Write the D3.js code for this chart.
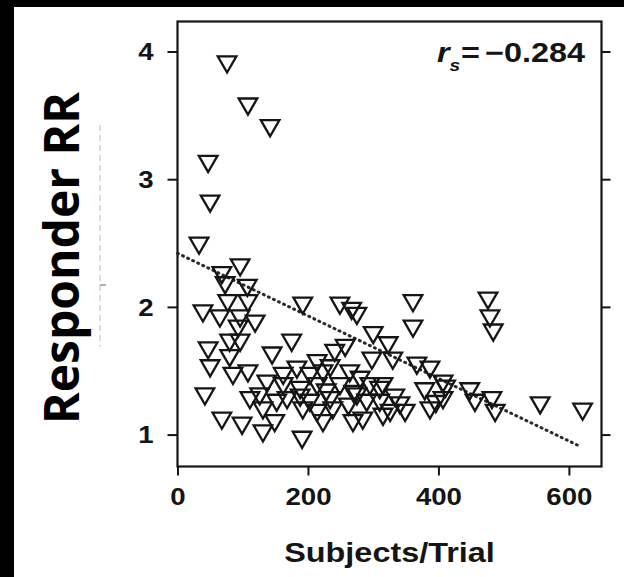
<!DOCTYPE html>
<html>
<head>
<meta charset="utf-8">
<script src="https://cdn.jsdelivr.net/npm/d3@7"></script>
<style>
  html, body { margin: 0; padding: 0; background: #fff; }
  svg { display: block; }
</style>
</head>
<body>
<svg id="chart" width="624" height="577"></svg>
<script>
// Trial size (subjects per trial) and responder relative risk, one entry per trial
const subjects = [
  76, 108, 142, 47, 50, 33,
  96, 68, 73, 77, 108, 39, 65, 96, 119, 93, 80, 96, 47, 50,
  85, 108, 42, 68, 99, 131, 149, 191,
  192, 249, 267, 275, 361, 361, 476, 479, 484,
  300, 323, 145, 175, 257, 241, 298, 330, 367, 387,
  407, 379, 387, 407, 448, 456, 482, 487, 556, 621,
  315, 326, 284, 269, 223,
  162, 183, 203, 223, 214, 188, 162, 137, 126, 111,
  203, 192, 234, 249, 264, 280, 295, 310, 275, 290,
  310, 238, 214, 168, 152, 131, 341, 349, 333, 315, 411,
  80, 107, 214, 234, 188, 262, 270, 228, 396
];
const responderRR = [
  3.92, 3.59, 3.42, 3.14, 2.83, 2.50,
  2.33, 2.27, 2.19, 2.05, 2.05, 1.97, 1.93, 1.93, 1.89, 1.85, 1.74, 1.74, 1.68, 1.54,
  1.48, 1.50, 1.32, 1.13, 1.09, 1.03, 1.11, 0.98,
  2.03, 2.03, 1.99, 1.95, 2.05, 1.85, 2.07, 1.93, 1.82,
  1.80, 1.72, 1.64, 1.74, 1.70, 1.66, 1.60, 1.60, 1.56, 1.53,
  1.42, 1.36, 1.21, 1.29, 1.36, 1.27, 1.29, 1.19, 1.25, 1.20,
  1.16, 1.19, 1.13, 1.11, 1.11,
  1.48, 1.53, 1.48, 1.50, 1.40, 1.37, 1.40, 1.42, 1.32, 1.29,
  1.27, 1.21, 1.29, 1.40, 1.50, 1.45, 1.40, 1.37, 1.32, 1.27,
  1.27, 1.21, 1.19, 1.29, 1.27, 1.21, 1.25, 1.19, 1.31, 1.40, 1.38,
  1.62, 2.17, 1.58, 1.54, 1.31, 1.24, 1.34, 1.35, 1.26
];

// Tick values and labels
const xTicks = [0, 200, 400, 600];
const yTicks = [1, 2, 3, 4];

// Fitted trend line (intercept, slope) and its x extent
const fitIntercept = 2.42;
const fitSlope = -0.00245;
const fitRange = [0, 617];

// Spearman coefficient shown in the corner
const spearmanValue = "\u22120.284";

const svg = d3.select("#chart");
const W = 624, H = 577;

// page background and dark frame strips
svg.append("rect").attr("width", W).attr("height", H).attr("fill", "#fff");
svg.append("rect").attr("x", 0).attr("y", 0).attr("width", W).attr("height", 7).attr("fill", "#000");
svg.append("rect").attr("x", 0).attr("y", 0).attr("width", 14).attr("height", H).attr("fill", "#000");

const x = d3.scaleLinear().domain([0, 650]).range([177.5, 601.5]);
const y = d3.scaleLinear().domain([0.75, 4.235]).range([466.5, 21.5]);

const font = "'Liberation Sans', Arial, Helvetica, sans-serif";
const ink = "#151515";

const plot = svg.append("g");

// faint dashed guide to the left of the axis
plot.append("line")
  .attr("x1", 100).attr("x2", 100).attr("y1", 125).attr("y2", 347)
  .attr("stroke", "#b8b8b8").attr("stroke-width", 1).attr("stroke-dasharray", "6,4");
plot.append("line")
  .attr("x1", 100).attr("x2", 106).attr("y1", 285).attr("y2", 285)
  .attr("stroke", "#999").attr("stroke-width", 1.5);

// left axis
const yAxis = plot.append("g")
  .attr("transform", `translate(${x.range()[0]},0)`)
  .call(d3.axisLeft(y).tickValues(yTicks).tickFormat(d3.format("d")).tickSize(10).tickSizeOuter(0));
// bottom axis
const xAxis = plot.append("g")
  .attr("transform", `translate(0,${y.range()[0]})`)
  .call(d3.axisBottom(x).tickValues(xTicks).tickFormat(d3.format("d")).tickSize(9).tickSizeOuter(0));
// right axis ticks (no labels)
const rAxis = plot.append("g")
  .attr("transform", `translate(${x.range()[1]},0)`)
  .call(d3.axisRight(y).tickValues(yTicks).tickFormat("").tickSize(9).tickSizeOuter(0));

[yAxis, xAxis, rAxis].forEach(g => {
  g.select(".domain").remove();
  g.selectAll(".tick line").attr("stroke", ink).attr("stroke-width", 2);
});

yAxis.selectAll(".tick text")
  .attr("x", null).attr("dy", "0.36em")
  .attr("transform", "translate(-24,0) scale(1.2,1)")
  .attr("text-anchor", "end")
  .attr("font-family", font).attr("font-weight", "bold").attr("font-size", 23)
  .attr("fill", ink);

xAxis.selectAll(".tick text")
  .attr("y", null).attr("dy", null)
  .attr("transform", "translate(0,38) scale(1.2,1)")
  .attr("text-anchor", "middle")
  .attr("font-family", font).attr("font-weight", "bold").attr("font-size", 23)
  .attr("fill", ink);

// plot frame
plot.append("rect")
  .attr("x", x.range()[0]).attr("y", y.range()[1])
  .attr("width", x.range()[1] - x.range()[0])
  .attr("height", y.range()[0] - y.range()[1])
  .attr("fill", "none").attr("stroke", ink).attr("stroke-width", 2.2);

// dotted trend line
const fitLine = d3.line().x(d => x(d)).y(d => y(fitIntercept + fitSlope * d));
plot.append("path")
  .datum(fitRange)
  .attr("d", fitLine)
  .attr("fill", "none")
  .attr("stroke", "#2a2a2a")
  .attr("stroke-width", 3)
  .attr("stroke-linecap", "round")
  .attr("stroke-dasharray", "1,4.6");

// open inverted triangles, one per trial
const tri = d3.symbol().type(d3.symbolTriangle).size(150);
plot.append("g")
  .selectAll("path")
  .data(subjects.map((s, i) => [s, responderRR[i]]))
  .join("path")
  .attr("d", tri)
  .attr("transform", d => `translate(${x(d[0])},${y(d[1])}) rotate(180)`)
  .attr("fill", "none")
  .attr("stroke", ink)
  .attr("stroke-width", 2.3);

// Spearman label: italic r with subscript s, then the value
const rs = plot.append("text")
  .attr("transform", "translate(437,62) scale(1.2,1)")
  .attr("font-family", font).attr("font-size", 27).attr("fill", ink);
rs.append("tspan").attr("font-style", "italic").attr("font-weight", "bold").text("r");
rs.append("tspan").attr("font-style", "italic").attr("font-weight", "bold")
  .attr("font-size", 16).attr("dy", 9).text("s");
plot.append("text")
  .attr("transform", "translate(461,62) scale(1.2,1)")
  .attr("font-family", font).attr("font-weight", "bold").attr("font-size", 27).attr("fill", ink)
  .text("=");
plot.append("text")
  .attr("transform", "translate(585,62) scale(1.2,1)")
  .attr("text-anchor", "end")
  .attr("font-family", font).attr("font-weight", "bold").attr("font-size", 27).attr("fill", ink)
  .text(spearmanValue);

// x axis title
plot.append("text")
  .attr("transform", `translate(${(x.range()[0] + x.range()[1]) / 2},562) scale(1.2,1)`)
  .attr("text-anchor", "middle")
  .attr("font-family", font).attr("font-weight", "bold").attr("font-size", 27).attr("fill", ink)
  .text("Subjects/Trial");

// y axis title
svg.append("text")
  .attr("transform", "translate(79,258) rotate(-90)")
  .attr("text-anchor", "middle")
  .attr("font-family", "'Open Sans', sans-serif").attr("font-weight", "bold").attr("font-size", 48)
  .attr("fill", "#000")
  .text("Responder RR");
</script>
</body>
</html>
